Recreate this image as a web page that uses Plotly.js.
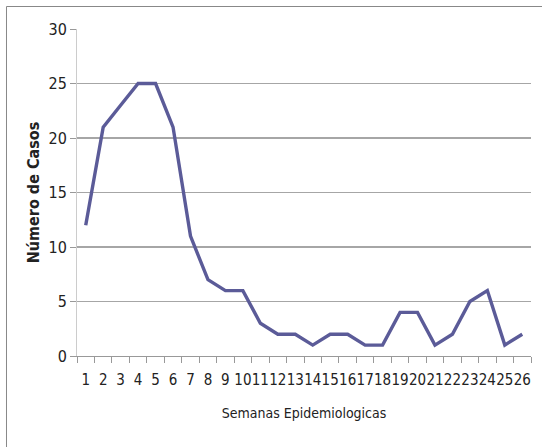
<!DOCTYPE html>
<html>
<head>
<meta charset="utf-8">
<script src="https://cdn.plot.ly/plotly-3.0.1.min.js"></script>
<style>
html,body{margin:0;padding:0;background:#fff;}
#chart{width:542px;height:447px;}
</style>
</head>
<body>
<div id="chart"></div>
<script>
const semanas = ["1","2","3","4","5","6","7","8","9","10","11","12","13","14","15","16","17","18","19","20","21","22","23","24","25","26"];
const casos = [12,21,23,25,25,21,11,7,6,6,3,2,2,1,2,2,1,1,4,4,1,2,5,6,1,2];
const yTicks = [0,5,10,15,20,25,30];

const fontFam = '"DejaVu Sans Condensed", "Liberation Sans Narrow", sans-serif';

const trace = {
  x: semanas,
  y: casos,
  type: 'scatter',
  mode: 'lines',
  line: {color: '#5b5b98', width: 3.4},
  hoverinfo: 'none'
};

const layout = {
  width: 542,
  height: 447,
  margin: {l: 77, r: 11, t: 29, b: 91},
  paper_bgcolor: '#ffffff',
  plot_bgcolor: '#ffffff',
  showlegend: false,
  font: {family: fontFam, color: '#222', size: 14},
  xaxis: {
    type: 'category',
    range: [-0.5, 25.5],
    tickvals: semanas,
    ticktext: semanas,
    tickson: 'boundaries',
    tickangle: 0,
    ticks: 'outside',
    ticklen: 6,
    tickcolor: '#999',
    ticklabelstandoff: 10,
    showline: true,
    linecolor: '#999',
    linewidth: 1,
    showgrid: false,
    zeroline: false,
    tickfont: {family: fontFam, size: 15, color: '#222'},
    title: {text: 'Semanas Epidemiologicas', font: {family: fontFam, size: 14, color: '#222'}, standoff: 20},
    fixedrange: true
  },
  yaxis: {
    range: [0, 30],
    tickvals: yTicks,
    ticktext: yTicks.map(String),
    ticks: 'outside',
    ticklen: 6,
    tickcolor: '#999',
    showline: true,
    linecolor: '#ccc',
    linewidth: 1,
    showgrid: true,
    gridcolor: '#a6a6a6',
    gridwidth: 1.5,
    zeroline: false,
    tickfont: {family: fontFam, size: 16, color: '#222'},
    title: {text: '<b>Número de Casos</b>', font: {family: fontFam, size: 16, color: '#222'}, standoff: 4},
    fixedrange: true
  },
  shapes: [
    {type: 'line', xref: 'paper', yref: 'paper', x0: -0.1553, x1: -0.1553, y0: 1.0688, y1: -0.4, line: {color: '#888', width: 1}},
    {type: 'line', xref: 'paper', yref: 'paper', x0: -0.1553, x1: 1.1, y0: 1.0688, y1: 1.0688, line: {color: '#888', width: 1}}
  ]
};

Plotly.newPlot('chart', [trace], layout, {displayModeBar: false, staticPlot: true});
</script>
</body>
</html>
